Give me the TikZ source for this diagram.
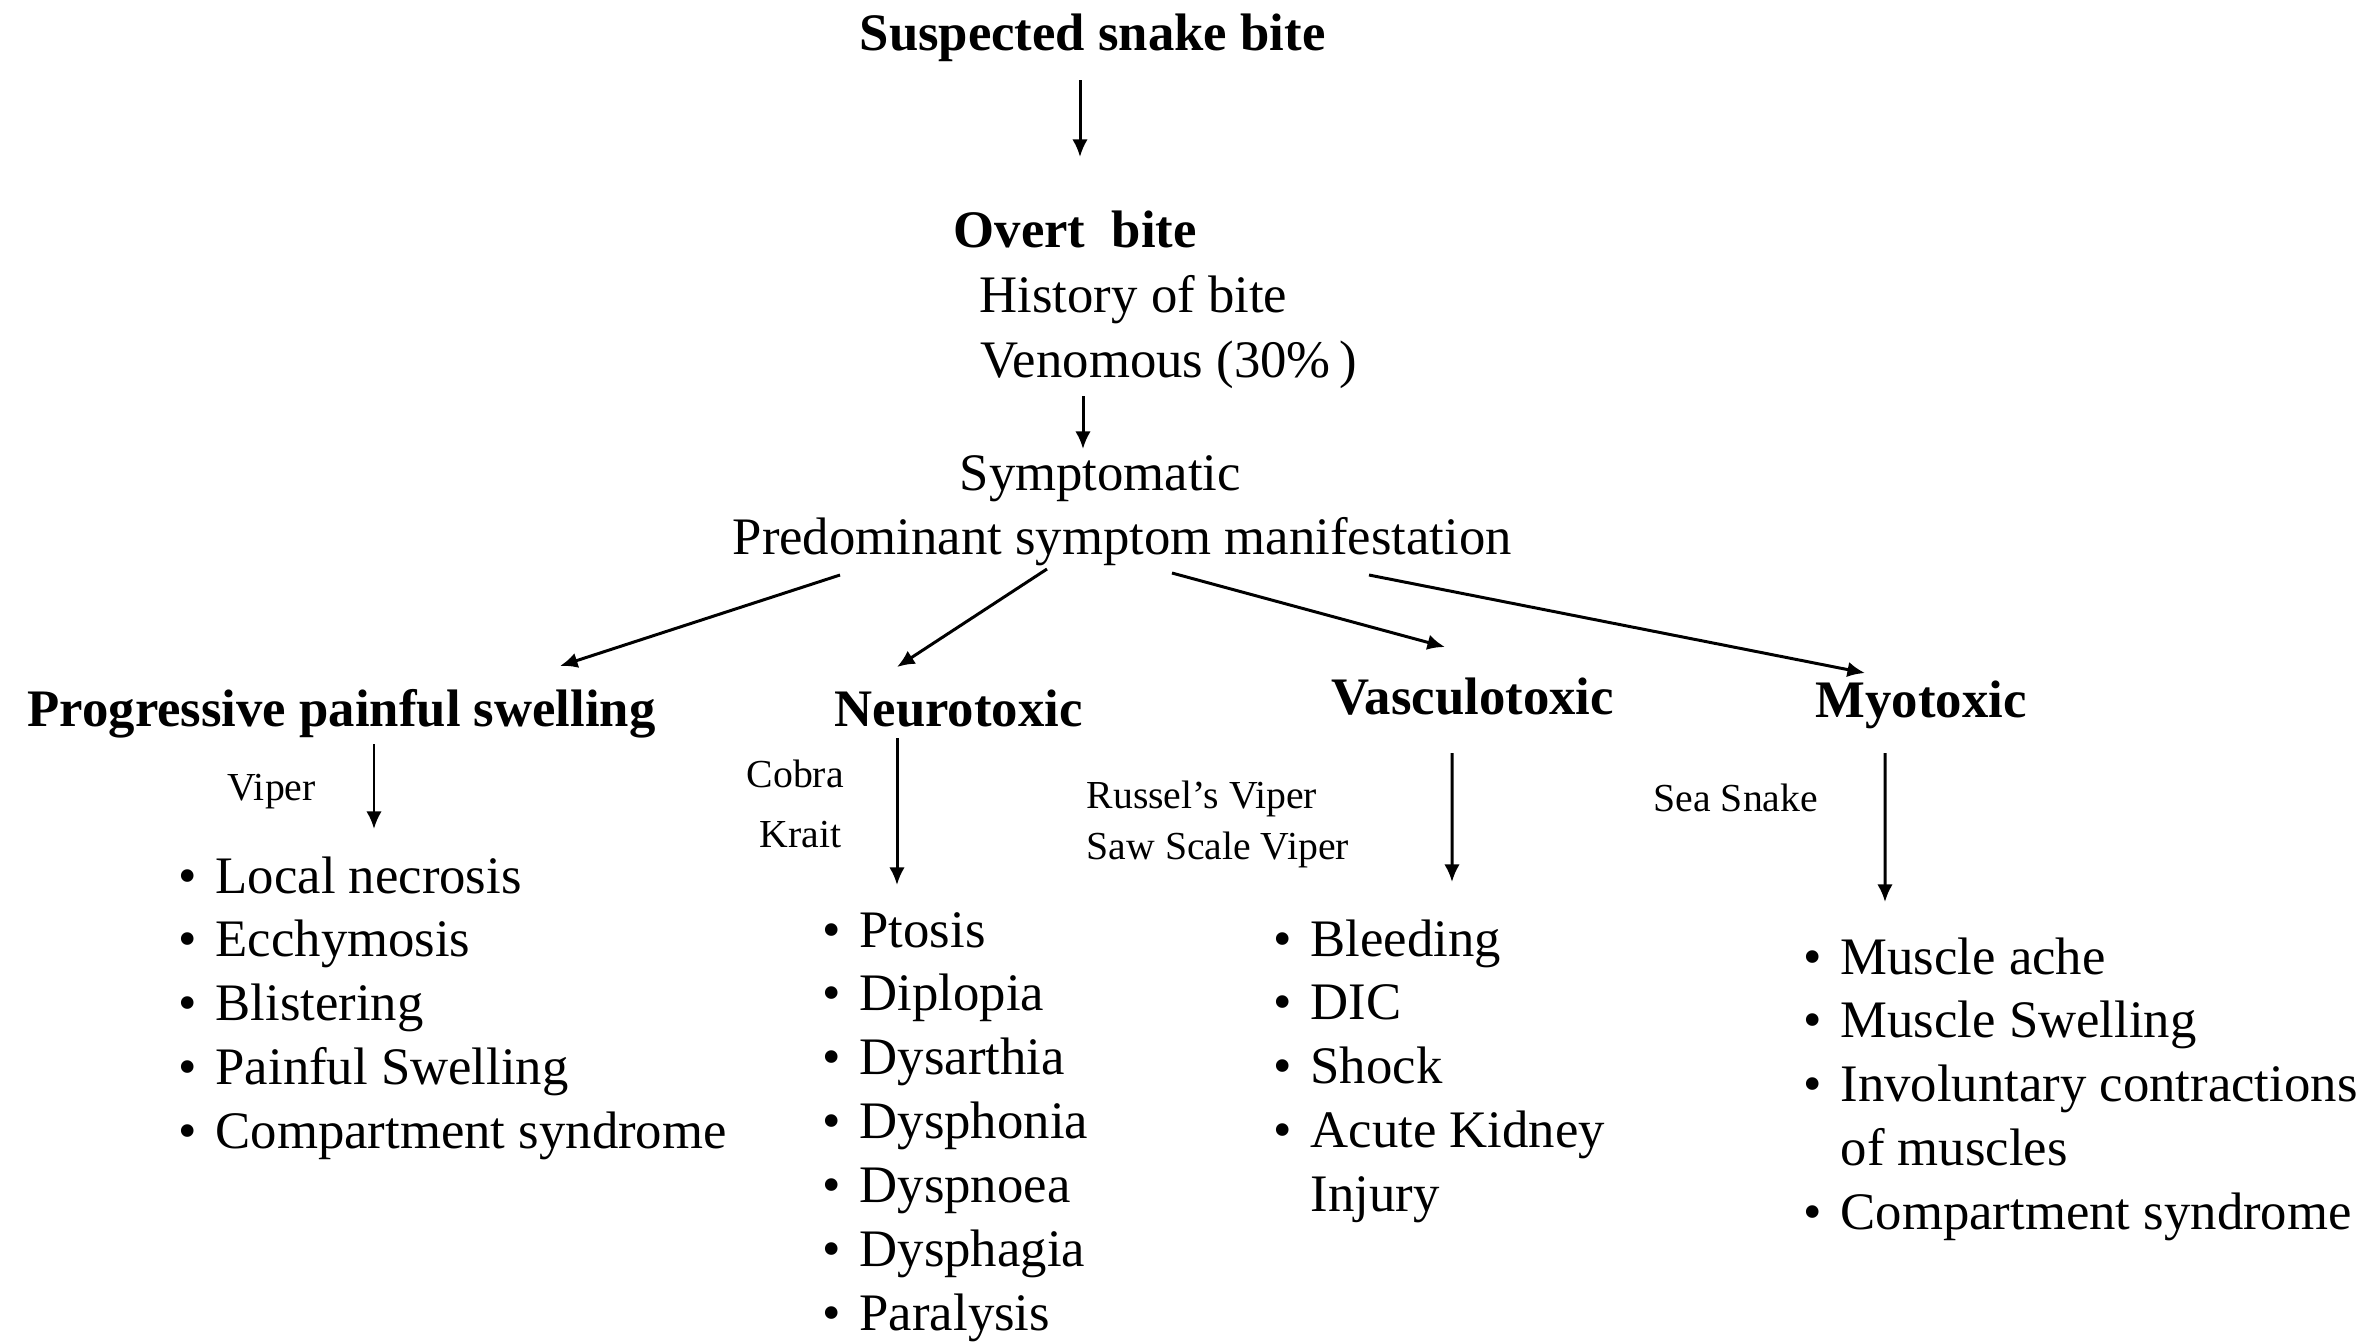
\documentclass[tikz,border=0pt]{standalone}
\usepackage{fontspec}
\setmainfont{Liberation Serif}
\usetikzlibrary{arrows.meta}
\newcommand{\blt}{\makebox[0.37cm][l]{\textbullet}}
\begin{document}
\begin{tikzpicture}[
  head/.style={inner sep=0pt, anchor=base west, font=\fontsize{15}{18.2}\selectfont\bfseries},
  txt/.style={inner sep=0pt, anchor=base west, font=\fontsize{15}{18.2}\selectfont},
  sml/.style={inner sep=0pt, anchor=base west, font=\fontsize{11.3}{13.6}\selectfont},
  flow/.style={-{Latex[length=5pt,width=4.4pt]}, line width=0.85pt}]
\useasboundingbox (0,0) rectangle (23.72,-13.41);
% top of the chart
\node[head] (susp)  at (8.59, -0.50) {Suspected snake bite};
\node[head] (overt) at (9.53, -2.47) {Overt\ \ bite};
\node[txt]  (hist)  at (9.79, -3.12) {History of bite};
\node[txt]  (venom) at (9.80, -3.77) {Venomous (30\%\,)};
\node[txt]  (sympt) at (9.59, -4.90) {Symptomatic};
\node[txt]  (pred)  at (7.32, -5.54) {Predominant symptom manifestation};
\draw[flow] ([shift={(2.21,-0.30)}]susp.base west) -- ([shift={(1.27,0.90)}]overt.base west);
\draw[flow] ([shift={(1.03,-0.19)}]venom.base west) -- ([shift={(1.24,0.41)}]sympt.base west);
% four branches
\node[head] (prog)  at (0.27, -7.26)  {Progressive painful swelling};
\node[head] (neuro) at (8.34, -7.26)  {Neurotoxic};
\node[head] (vasc)  at (13.31, -7.14) {Vasculotoxic};
\node[head] (myo)   at (18.15, -7.17) {Myotoxic};
\draw[flow] ([shift={(1.08,-0.21)}]pred.base west) -- ([shift={(5.33,0.60)}]prog.base west);
\draw[flow] ([shift={(3.15,-0.15)}]pred.base west) -- ([shift={(0.63,0.59)}]neuro.base west);
\draw[flow] ([shift={(4.40,-0.19)}]pred.base west) -- ([shift={(1.14,0.67)}]vasc.base west);
\draw[flow] ([shift={(6.37,-0.21)}]pred.base west) -- ([shift={(0.50,0.44)}]myo.base west);
% snakes
\node[sml] (viper)  at (2.27, -8.00)  {Viper};
\node[sml] (cobra)  at (7.46, -7.87)  {Cobra};
\node[sml] (krait)  at (7.59, -8.47)  {Krait};
\node[sml] (russ)   at (10.86, -8.08) {Russel’s Viper};
\node[sml] (saw)    at (10.86, -8.59) {Saw Scale Viper};
\node[sml] (sea)    at (16.53, -8.11) {Sea Snake};
% symptom lists
\node[txt] (lprog) at (1.78, -8.93) {\begin{tabular}[t]{@{}l@{}}
  \blt Local necrosis\\ \blt Ecchymosis\\ \blt Blistering\\
  \blt Painful Swelling\\ \blt Compartment syndrome\end{tabular}};
\node[txt] (lneuro) at (8.22, -9.47) {\begin{tabular}[t]{@{}l@{}}
  \blt Ptosis\\ \blt Diplopia\\ \blt Dysarthia\\ \blt Dysphonia\\
  \blt Dyspnoea\\ \blt Dysphagia\\ \blt Paralysis\end{tabular}};
\node[txt] (lvasc) at (12.73, -9.56) {\begin{tabular}[t]{@{}l@{}}
  \blt Bleeding\\ \blt DIC\\ \blt Shock\\ \blt Acute Kidney\\
  \hspace{0.37cm}Injury\end{tabular}};
\node[txt] (lmyo) at (18.03, -9.74) {\begin{tabular}[t]{@{}l@{}}
  \blt Muscle ache\\ \blt Muscle Swelling\\ \blt Involuntary contractions\\
  \hspace{0.37cm}of muscles\\ \blt Compartment syndrome\end{tabular}};
\draw[flow] ([shift={(3.47,-0.18)}]prog.base west) -- ([shift={(1.96,0.64)}]lprog.base west);
\draw[flow] ([shift={(0.63,-0.12)}]neuro.base west) -- ([shift={(0.75,0.62)}]lneuro.base west);
\draw[flow] ([shift={(1.21,-0.39)}]vasc.base west) -- ([shift={(1.79,0.74)}]lvasc.base west);
\draw[flow] ([shift={(0.70,-0.36)}]myo.base west) -- ([shift={(0.82,0.72)}]lmyo.base west);
\end{tikzpicture}
\end{document}
